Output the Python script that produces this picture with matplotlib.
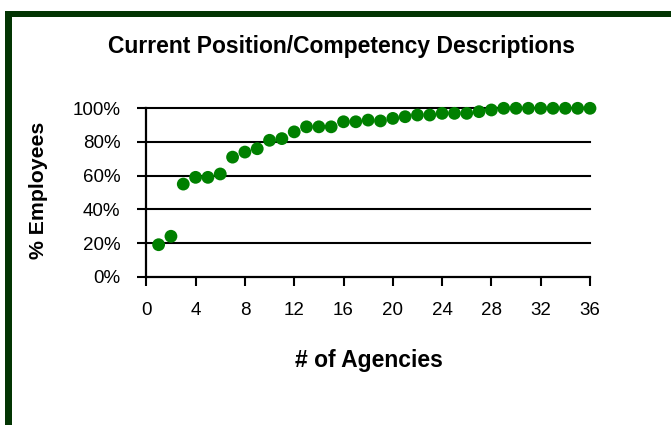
import matplotlib
matplotlib.use("Agg")
import matplotlib.pyplot as plt
from matplotlib.patches import Rectangle
from matplotlib.ticker import FuncFormatter

plt.rcParams['font.family'] = ['Liberation Sans', 'DejaVu Sans']

agencies = list(range(1, 37))
pct_employees = [19, 24, 55, 59, 59, 61, 71, 74, 76, 81, 82, 86, 89, 89, 89, 92, 92, 93,
                 92.5, 94, 95, 96, 96, 97, 97, 97, 98, 99, 100, 100, 100, 100, 100, 100, 100, 100]
x_ticks = [0, 4, 8, 12, 16, 20, 24, 28, 32, 36]
y_ticks = [0, 20, 40, 60, 80, 100]
title = "Current Position/Competency Descriptions"
xlabel = "# of Agencies"
ylabel = "% Employees"

W, H = 671, 425
fig = plt.figure(figsize=(W / 100, H / 100), dpi=100)

# Dark green frame (left and top)
border = "#033503"
fig.patches.append(Rectangle((5 / W, 0), 6.5 / W, (H - 11) / H, transform=fig.transFigure,
                             facecolor=border, edgecolor='none'))
fig.patches.append(Rectangle((5 / W, (H - 17) / H), (W - 5) / W, 6.5 / H, transform=fig.transFigure,
                             facecolor=border, edgecolor='none'))

left, right = 146.3 / W, 590 / W
bottom, top = 1 - 276.7 / H, 1 - 108.3 / H
ax = fig.add_axes([left, bottom, right - left, top - bottom])

ax.scatter(agencies, pct_employees, s=85, color="#008000", edgecolors='none', zorder=3, clip_on=False)

ax.set_xlim(0, 36)
ax.set_ylim(0, 100)
ax.set_xticks(x_ticks)
ax.set_yticks(y_ticks)
ax.yaxis.set_major_formatter(FuncFormatter(lambda v, p: f"{int(v)}%"))

for yv in y_ticks[1:]:
    ax.axhline(yv, color='black', lw=1.5, zorder=1, clip_on=False)

for s in ['top', 'right']:
    ax.spines[s].set_visible(False)
for s in ['left', 'bottom']:
    ax.spines[s].set_linewidth(1.6)
    ax.spines[s].set_color('black')

ax.tick_params(axis='both', direction='out', length=6.5, width=1.5, color='black',
               labelsize=13.5, labelcolor='black')
ax.tick_params(axis='x', pad=12)
ax.tick_params(axis='y', pad=12)

fig.text(341 / W, 1 - 46 / H, title, ha='center', va='center', fontsize=16.5, fontweight='bold')
fig.text(369 / W, 1 - 360 / H, xlabel, ha='center', va='center', fontsize=16.5, fontweight='bold')
fig.text(38 / W, 1 - 190 / H, ylabel, ha='center', va='center', rotation=90, fontsize=15.3,
         fontweight='bold')

fig.savefig("out.png", dpi=100)
